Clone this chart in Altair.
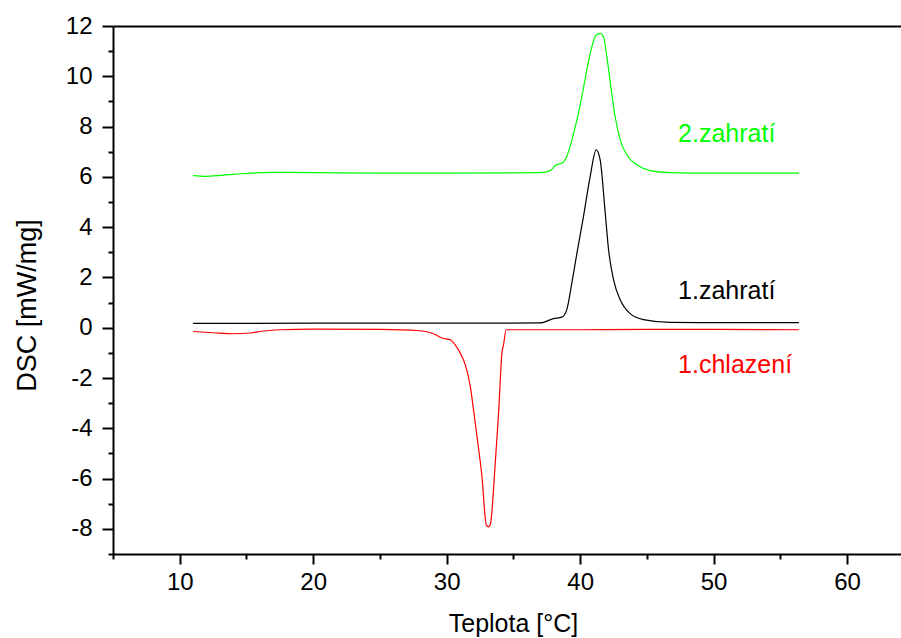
import altair as alt
import pandas as pd

# 2.zahratí (green)
heat2_t = [11.0, 12.0, 14.0, 16.8, 20.0, 25.0, 30.0, 35.0, 37.0, 37.76, 38.21, 38.63, 39.0, 39.38,
           39.76, 40.13, 40.5, 40.88, 41.2, 41.5, 41.75, 42.0, 42.3, 42.62, 43.0, 43.5, 44.25,
           45.25, 46.74, 50.0, 56.4]
heat2_v = [6.05, 6.02, 6.1, 6.18, 6.17, 6.15, 6.15, 6.16, 6.17, 6.25, 6.48, 6.54, 6.81, 7.47,
           8.27, 9.19, 10.25, 11.18, 11.64, 11.71, 11.58, 10.78, 9.59, 8.40, 7.47, 6.87, 6.48,
           6.25, 6.17, 6.15, 6.15]

# 1.zahratí (black)
heat1_t = [11.0, 20.0, 30.0, 37.01, 38.0, 38.63, 39.0, 39.38, 39.76, 40.25, 40.75, 41.2, 41.5,
           41.88, 42.13, 42.5, 43.0, 43.75, 44.74, 46.74, 50.0, 56.4]
heat1_v = [0.17, 0.18, 0.18, 0.19, 0.36, 0.42, 0.72, 1.78, 2.97, 4.42, 6.01, 7.07, 6.68,
           4.56, 3.1, 1.91, 1.11, 0.56, 0.32, 0.21, 0.2, 0.2]

# 1.chlazení (red)
cool1_t = [11.0, 12.5, 14.0, 15.3, 16.3, 17.5, 20.0, 25.0, 28.03, 29.02, 29.65, 30.27, 30.64,
           31.02, 31.39, 31.77, 32.01, 32.27, 32.64, 32.97, 33.14, 33.27, 33.64, 33.89, 34.14,
           34.26, 34.46, 40.0, 45.0, 50.0, 56.4]
cool1_v = [-0.15, -0.2, -0.24, -0.21, -0.13, -0.08, -0.06, -0.07, -0.12, -0.24, -0.41, -0.48,
           -0.68, -1.01, -1.47, -2.33, -3.26, -4.32, -5.9, -7.85, -7.92, -7.83, -5.38, -3.39,
           -1.01, -0.68, -0.08, -0.08, -0.07, -0.07, -0.08]

series_names = ["2.zahratí", "1.zahratí", "1.chlazení"]
series_colors = ["#00ff00", "#000000", "#ff0000"]

# annotation anchors (data units)
label_t = [47.34, 47.34, 47.34]
label_v = [7.38, 1.14, -1.80]

x_major = [10, 20, 30, 40, 50, 60]
x_minor = [5, 15, 25, 35, 45, 55]
y_major = [-8, -6, -4, -2, 0, 2, 4, 6, 8, 10, 12]
y_minor = [-9, -7, -5, -3, -1, 1, 3, 5, 7, 9, 11]

rows = []
for name, ts, vs in zip(series_names, [heat2_t, heat1_t, cool1_t], [heat2_v, heat1_v, cool1_v]):
    for t, v in zip(ts, vs):
        rows.append({"series": name, "t": t, "v": v})
df = pd.DataFrame(rows)
lab = pd.DataFrame({"series": series_names, "t": label_t, "v": label_v, "label": series_names})

xscale = alt.Scale(domain=[5, 64.04], nice=False, zero=False)
yscale = alt.Scale(domain=[-9, 12], nice=False, zero=False)
cscale = alt.Scale(domain=series_names, range=series_colors)
FONT = "Liberation Sans"

lines = alt.Chart(df).mark_line(strokeWidth=1.2, interpolate="monotone").encode(
    x=alt.X("t:Q", scale=xscale, axis=alt.Axis(
        orient="bottom", values=x_major, tickSize=10, labelPadding=6, labelFlush=False,
        labelExpr="'' + datum.value", title="Teplota [°C]", titleX=400, titleY=77,
        titleBaseline="alphabetic", titleFontSize=25)),
    y=alt.Y("v:Q", scale=yscale, axis=alt.Axis(
        orient="left", values=y_major, tickSize=11, labelPadding=10, labelFlush=False,
        labelExpr="'' + datum.value", title="DSC [mW/mg]", titleX=-78, titleY=305 - 26,
        titleBaseline="alphabetic", titleFontSize=27)),
    color=alt.Color("series:N", scale=cscale, legend=None),
    detail="series:N",
)

minor = alt.Chart(df).mark_point(opacity=0).encode(
    x=alt.X("t:Q", scale=xscale, axis=alt.Axis(
        orient="bottom", values=x_minor, tickSize=5, labels=False, domain=False, title="")),
    y=alt.Y("v:Q", scale=yscale, axis=alt.Axis(
        orient="left", values=y_minor, tickSize=5, labels=False, domain=False, title="")),
)

top = alt.Chart(df).mark_point(opacity=0).encode(
    x=alt.X("t:Q", scale=xscale, axis=alt.Axis(
        orient="top", ticks=False, labels=False, domain=True, title="")),
    y=alt.Y("v:Q", scale=yscale, axis=None),
)

texts = alt.Chart(lab).mark_text(align="left", baseline="alphabetic", fontSize=25, font=FONT).encode(
    x=alt.X("t:Q", scale=xscale, axis=None),
    y=alt.Y("v:Q", scale=yscale, axis=None),
    text="label:N",
    color=alt.Color("series:N", scale=cscale, legend=None),
)

chart = alt.layer(lines, minor, top, texts).resolve_axis(
    x="independent", y="independent"
).properties(
    width=788, height=528,
    autosize=alt.AutoSizeParams(type="none"),
    padding={"left": 113, "top": 26, "right": 0, "bottom": 84},
).configure_axis(
    domainColor="black", domainWidth=2, tickColor="black", tickWidth=2,
    labelFont=FONT, labelFontSize=24, labelColor="black",
    titleFont=FONT, titleFontWeight="normal", titleColor="black",
    grid=False,
).configure_view(strokeOpacity=0)

chart.save("out.html", embed_options={"renderer": "svg", "actions": False})
